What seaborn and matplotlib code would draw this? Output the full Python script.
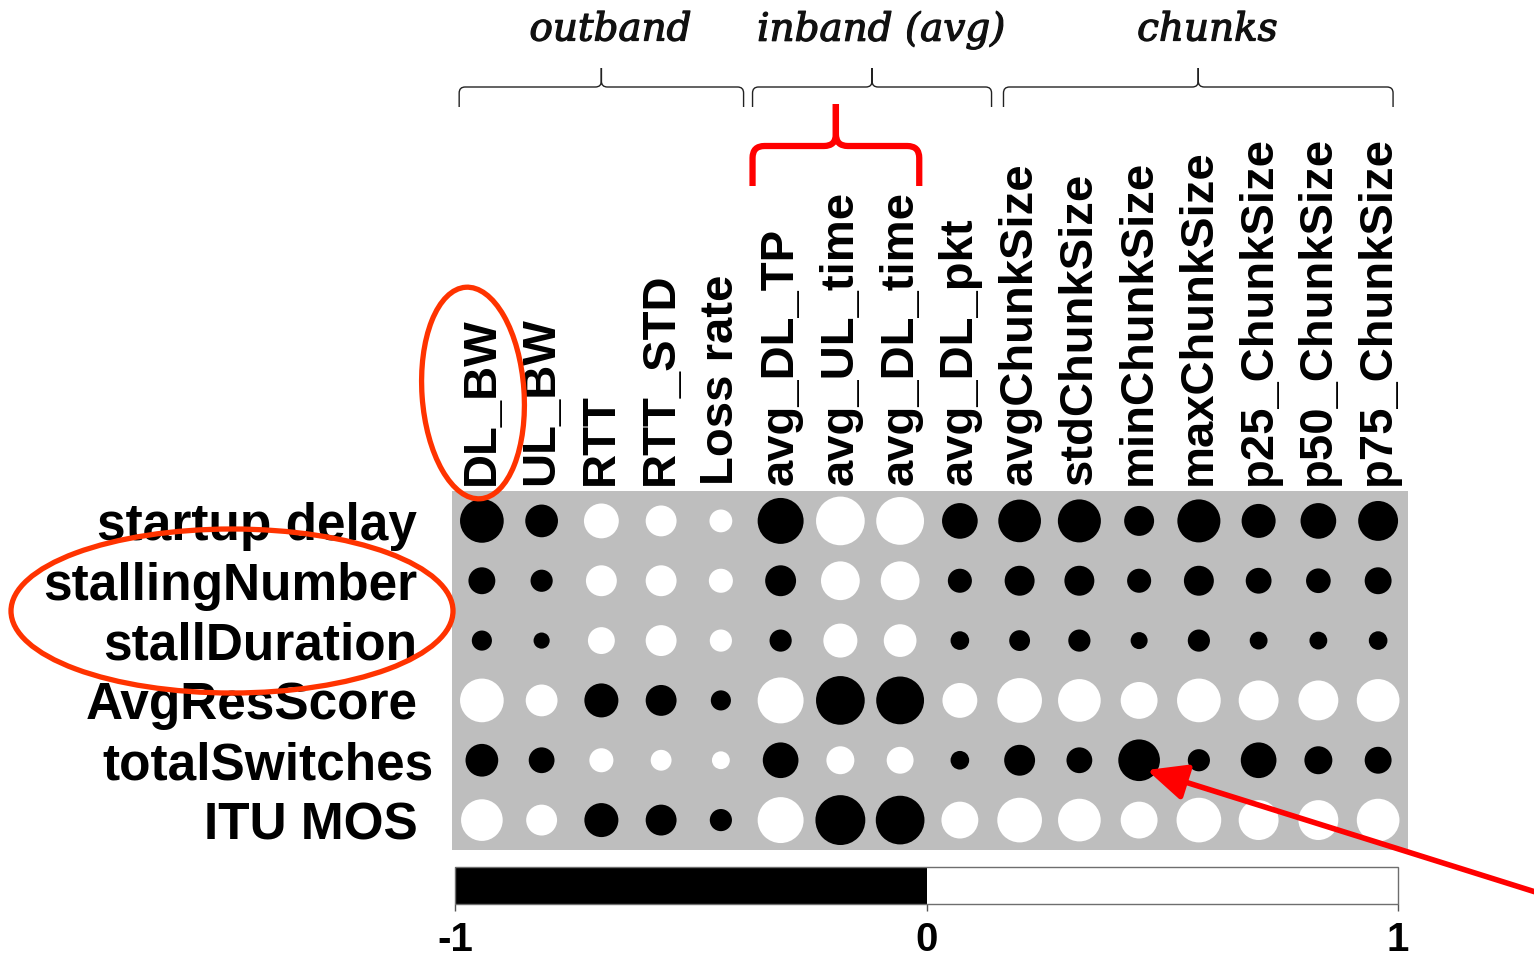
import numpy as np
import pandas as pd
import matplotlib
matplotlib.use("Agg")
import matplotlib.pyplot as plt
import matplotlib.patheffects as pe
import seaborn as sns
from matplotlib.path import Path
from matplotlib.patches import PathPatch, Ellipse, FancyArrowPatch
from matplotlib.colors import ListedColormap, Normalize
from matplotlib.cm import ScalarMappable
from matplotlib.transforms import ScaledTranslation

# Network / player features (columns) and QoE metrics (rows)
features = ["DL_BW", "UL_BW", "RTT", "RTT_STD", "Loss rate",
            "avg_DL_TP", "avg_UL_time", "avg_DL_time", "avg_DL_pkt",
            "avgChunkSize", "stdChunkSize", "minChunkSize", "maxChunkSize",
            "p25_ChunkSize", "p50_ChunkSize", "p75_ChunkSize"]
metrics = ["startup delay", "stallingNumber", "stallDuration",
           "AvgResScore", "totalSwitches", "ITU MOS"]

# Correlation coefficients, one list per QoE metric
startup_delay   = [-0.66, -0.37, 0.42, 0.33, 0.18, -0.73, 0.82, 0.79,
                   -0.44, -0.63, -0.64, -0.31, -0.64, -0.40, -0.44, -0.55]
stalling_number = [-0.25, -0.17, 0.33, 0.33, 0.20, -0.33, 0.52, 0.52,
                   -0.20, -0.31, -0.31, -0.20, -0.31, -0.23, -0.21, -0.25]
stall_duration  = [-0.14, -0.09, 0.25, 0.33, 0.17, -0.17, 0.40, 0.37,
                   -0.12, -0.15, -0.17, -0.10, -0.17, -0.11, -0.11, -0.12]
avg_res_score   = [0.66, 0.35, -0.40, -0.33, -0.14, 0.73, -0.82, -0.79,
                   0.42, 0.69, 0.63, 0.47, 0.66, 0.55, 0.55, 0.63]
total_switches  = [-0.37, -0.23, 0.20, 0.15, 0.11, -0.44, 0.27, 0.25,
                   -0.12, -0.33, -0.23, -0.60, -0.17, -0.44, -0.27, -0.25]
itu_mos         = [0.60, 0.33, -0.40, -0.33, -0.17, 0.73, -0.86, -0.82,
                   0.47, 0.69, 0.63, 0.47, 0.69, 0.55, 0.55, 0.63]

# Feature groups: (label, first column, last column)
groups = [("outband", 0, 4), ("inband (avg)", 5, 8), ("chunks", 9, 15)]

values = [startup_delay, stalling_number, stall_duration,
          avg_res_score, total_switches, itu_mos]

df = pd.DataFrame({
    "metric": np.repeat(metrics, len(features)),
    "feature": np.tile(features, len(metrics)),
    "r": np.concatenate(values),
})
df["feature"] = pd.Categorical(df["feature"], categories=features, ordered=True)
df["metric"] = pd.Categorical(df["metric"], categories=metrics, ordered=True)
df["absr"] = df["r"].abs()
df["sign"] = np.where(df["r"] < 0, "neg", "pos")

sns.set_theme(style="white")
plt.rcParams["font.family"] = ["Liberation Sans", "DejaVu Sans"]
plt.rcParams["text.color"] = "black"
plt.rcParams["xtick.labelcolor"] = "black"
plt.rcParams["ytick.labelcolor"] = "black"

W, H = 1534, 958
fig = plt.figure(figsize=(W / 100, H / 100), dpi=100)
ax = fig.add_axes([452 / W, 1 - 850 / H, 956 / W, 359 / H])
ax.set_facecolor("#BEBEBE")

# circle area proportional to |r|; diameter at |r| = 1 is 0.9 of a cell
cell_pt = 59.75 * 0.72
smax = (0.9 * cell_pt) ** 2
df["xpos"] = df["feature"].cat.codes
df["ypos"] = df["metric"].cat.codes
sns.scatterplot(data=df, x="xpos", y="ypos", hue="sign", size="absr",
                sizes=(0, smax), size_norm=(0, 1),
                palette={"neg": "black", "pos": "white"},
                linewidth=0, legend=False, ax=ax, zorder=3)

ax.set_xlim(-0.5, len(features) - 0.5)
ax.set_ylim(len(metrics) - 0.5, -0.5)
ax.set_xticks(range(len(features)))
ax.set_yticks(range(len(metrics)))
ax.set_xticklabels(features, rotation=90, fontsize=34, fontweight="bold")
ax.set_yticklabels(metrics, fontsize=37, fontweight="bold")
ax.xaxis.tick_top()
ax.tick_params(axis="x", length=0, pad=4)
ax.tick_params(axis="y", length=0, pad=25)
ax.set_xlabel("")
ax.set_ylabel("")
for s in ax.spines.values():
    s.set_visible(False)
for lbl in ax.get_yticklabels():
    if lbl.get_text() == "totalSwitches":
        lbl.set_transform(lbl.get_transform()
                          + ScaledTranslation(0.16, 0, fig.dpi_scale_trans))

# Colour key
cax = fig.add_axes([455 / W, 1 - 904 / H, 943 / W, 37 / H])
sm = ScalarMappable(norm=Normalize(-1, 1), cmap=ListedColormap(["black", "white"]))
cb = fig.colorbar(sm, cax=cax, orientation="horizontal", ticks=[-1, 0, 1])
cb.outline.set_edgecolor("#6E6E6E")
cb.outline.set_linewidth(1.0)
cb.ax.tick_params(length=5, width=1, color="#555555", pad=7,
                  labelsize=29, labelcolor="black")
cb.ax.set_xticklabels(["-1", "0", "1"], fontweight="bold")

# Overlay in pixel coordinates for braces and highlights
ov = fig.add_axes([0, 0, 1, 1], zorder=10)
ov.set_xlim(0, W)
ov.set_ylim(H, 0)
ov.axis("off")
ov.patch.set_alpha(0)


def col_px(c):
    return ax.transData.transform((c, 0))[0]


def brace(x0, x1, y_base, y_end, y_tip, r, **kw):
    xm = (x0 + x1) / 2
    verts = [(x0, y_end), (x0, y_base + r), (x0, y_base), (x0 + r, y_base),
             (xm - r, y_base), (xm, y_base), (xm, y_base - r), (xm, y_tip),
             (x1, y_end), (x1, y_base + r), (x1, y_base), (x1 - r, y_base),
             (xm + r, y_base), (xm, y_base), (xm, y_base - r), (xm, y_tip)]
    codes = [Path.MOVETO, Path.LINETO, Path.CURVE3, Path.CURVE3,
             Path.LINETO, Path.CURVE3, Path.CURVE3, Path.LINETO] * 2
    ov.add_patch(PathPatch(Path(verts, codes), fill=False, **kw))


pitch = col_px(1) - col_px(0)
spans = {"outband": (-0.38, 0.38), "inband (avg)": (-0.47, 0.53),
         "chunks": (-0.27, 0.25)}
for name, c0, c1 in groups:
    lo, hi = spans[name]
    x0 = col_px(c0) + lo * pitch
    x1 = col_px(c1) + hi * pitch
    brace(x0, x1, 87, 107, 68, 6, lw=1.0, edgecolor="#222222")
    ov.text((x0 + x1) / 2 + 9, 30, name, ha="center", va="center",
            fontsize=28, fontstyle="italic", fontweight="normal",
            family=["DejaVu Serif"], color="#111111",
            path_effects=[pe.withStroke(linewidth=0.9, foreground="#111111")])

# red brace over the inband timing features
rx0 = col_px(5) - 0.47 * pitch
rx1 = col_px(7) + 0.32 * pitch
brace(rx0, rx1, 146, 186, 104, 12, lw=4.5, edgecolor="#FF0000",
      capstyle="butt", joinstyle="round")

# red ellipses
ov.add_patch(Ellipse((473, 393), 102, 212, angle=-4, fill=False,
                     edgecolor="#FF3300", lw=3.8))
ov.add_patch(Ellipse((232, 611), 442, 164, fill=False,
                     edgecolor="#FF3300", lw=3.8))

# arrow pointing at the minChunkSize / totalSwitches circle
ov.add_patch(FancyArrowPatch((1545, 895), (1147, 770),
                             arrowstyle="-|>,head_length=1.2,head_width=0.55",
                             mutation_scale=20, color="#FF0000", lw=4,
                             shrinkA=0, shrinkB=0))

fig.savefig("out.png", dpi=100, facecolor="white")
